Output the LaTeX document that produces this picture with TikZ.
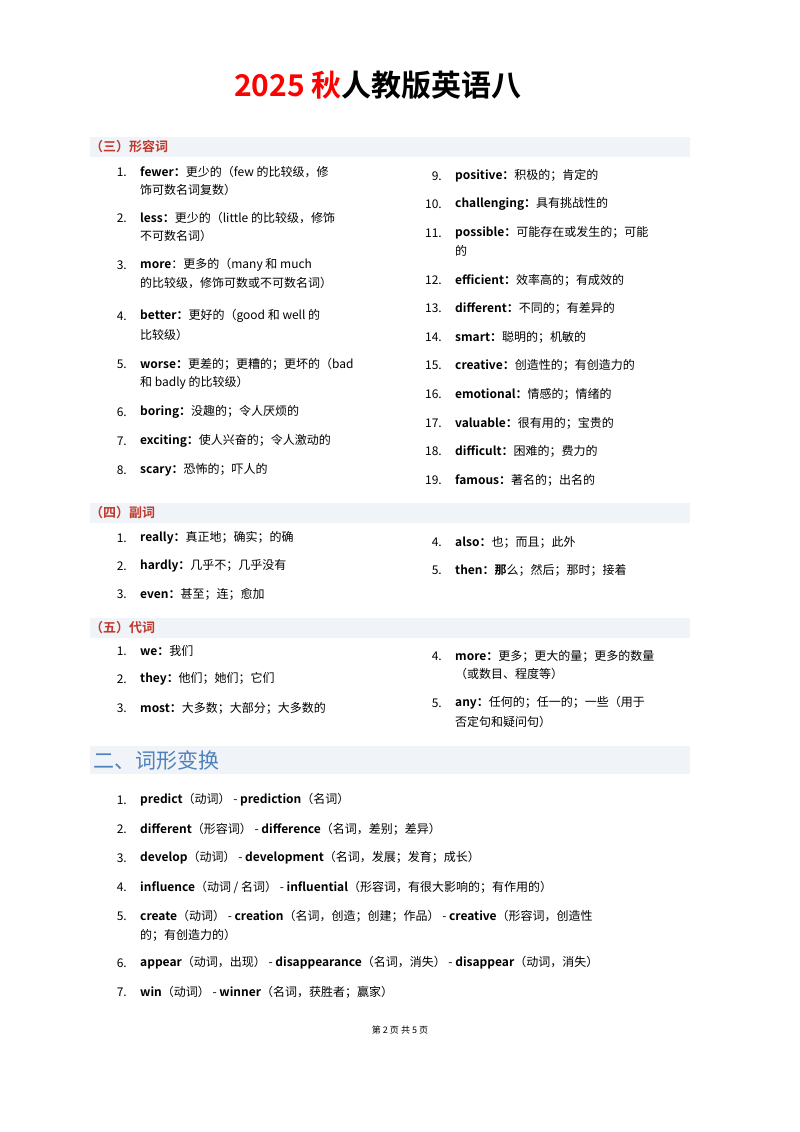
\documentclass[tikz,border=0pt]{standalone}
\usepackage{fontspec}
\setmainfont{Noto Sans CJK SC}[BoldFont={Noto Sans CJK SC Bold}]
\usetikzlibrary{positioning}
\definecolor{barbg}{HTML}{F0F3F8}
\definecolor{secred}{HTML}{C0392B}
\definecolor{secblue}{HTML}{4F81BD}
\tikzset{
  num/.style={anchor=east, inner sep=0pt, font=\fontsize{12}{14}\selectfont},
  txt/.style={anchor=west, inner sep=0pt, font=\fontsize{12}{14}\selectfont},
  sec/.style={anchor=west, inner sep=0pt, text=secred, font=\fontsize{13}{15}\selectfont\bfseries},
  bar/.style={fill=barbg, draw=none}
}
% item: name, x of text, y, number, bold word, rest
\newcommand{\itm}[6]{%
  \node[num] (n#1) at (#2-13,#3) {#4.};
  \node[txt] (t#1) at (#2,#3) {\textbf{#5}#6};}
\begin{document}
\begin{tikzpicture}[x=1pt,y=-1pt]
\useasboundingbox (0,0) rectangle (800,1132);
\fill[white] (0,0) rectangle (800,1132);

% title
\node[inner sep=0pt, font=\fontsize{30}{34}\selectfont\bfseries] (title) at (378,85)
  {\textcolor{red}{2025 秋}人教版英语八};

% (三)
\fill[bar] (90,137) rectangle (690,157);
\node[sec] (s3) at (90,147) {（三）形容词};
\itm{a1}{140}{172}{1}{fewer：}{更少的（few 的比较级，修}
\node[txt] (a1b) at (140,190) {饰可数名词复数）};
\itm{a2}{140}{218}{2}{less：}{更少的（little 的比较级，修饰}
\node[txt] (a2b) at (140,236) {不可数名词）};
\itm{a3}{140}{265}{3}{more}{：更多的（many 和 much}
\node[txt] (a3b) at (140,283) {的比较级，修饰可数或不可数名词）};
\itm{a4}{140}{316}{4}{better：}{更好的（good 和 well 的}
\node[txt] (a4b) at (140,335) {比较级）};
\itm{a5}{140}{364}{5}{worse：}{更差的；更糟的；更坏的（bad}
\node[txt] (a5b) at (140,383) {和 badly 的比较级）};
\itm{a6}{140}{412}{6}{boring：}{没趣的；令人厌烦的}
\itm{a7}{140}{441}{7}{exciting：}{使人兴奋的；令人激动的}
\itm{a8}{140}{470}{8}{scary：}{恐怖的；吓人的}
\itm{a9}{455}{176}{9}{positive：}{积极的；肯定的}
\itm{a10}{455}{204}{10}{challenging：}{具有挑战性的}
\itm{a11}{455}{233}{11}{possible：}{可能存在或发生的；可能}
\node[txt] (a11b) at (455,251) {的};
\itm{a12}{455}{280}{12}{efficient：}{效率高的；有成效的}
\itm{a13}{455}{308}{13}{different：}{不同的；有差异的}
\itm{a14}{455}{337}{14}{smart：}{聪明的；机敏的}
\itm{a15}{455}{365}{15}{creative：}{创造性的；有创造力的}
\itm{a16}{455}{394}{16}{emotional：}{情感的；情绪的}
\itm{a17}{455}{423}{17}{valuable：}{很有用的；宝贵的}
\itm{a18}{455}{451}{18}{difficult：}{困难的；费力的}
\itm{a19}{455}{480}{19}{famous：}{著名的；出名的}

% (四)
\fill[bar] (90,503) rectangle (690,523);
\node[sec] (s4) at (90,513) {（四）副词};
\itm{b1}{140}{538}{1}{really：}{真正地；确实；的确}
\itm{b2}{140}{566}{2}{hardly：}{几乎不；几乎没有}
\itm{b3}{140}{594}{3}{even：}{甚至；连；愈加}
\itm{b4}{455}{542}{4}{also：}{也；而且；此外}
\itm{b5}{455}{570}{5}{then：}{\textbf{那}么；然后；那时；接着}

% (五)
\fill[bar] (90,618) rectangle (690,638);
\node[sec] (s5) at (90,628) {（五）代词};
\itm{c1}{140}{651}{1}{we：}{我们}
\itm{c2}{140}{679}{2}{they：}{他们；她们；它们}
\itm{c3}{140}{708}{3}{most：}{大多数；大部分；大多数的}
\itm{c4}{455}{656}{4}{more：}{更多；更大的量；更多的数量}
\node[txt] (c4b) at (455,674) {（或数目、程度等）};
\itm{c5}{455}{703}{5}{any：}{任何的；任一的；一些（用于}
\node[txt] (c5b) at (455,722) {否定句和疑问句）};

% 二
\fill[bar] (90,746) rectangle (690,774);
\node[anchor=west, inner sep=0pt, text=secblue, font=\fontsize{21}{24}\selectfont] (s2) at (93,760) {二、词形变换};
\itm{d1}{140}{800}{1}{predict}{（动词） - \textbf{prediction}（名词）}
\itm{d2}{140}{829}{2}{different}{（形容词） - \textbf{difference}（名词，差别；差异）}
\itm{d3}{140}{858}{3}{develop}{（动词） - \textbf{development}（名词，发展；发育；成长）}
\itm{d4}{140}{887}{4}{influence}{（动词 / 名词） - \textbf{influential}（形容词，有很大影响的；有作用的）}
\itm{d5}{140}{916}{5}{create}{（动词） - \textbf{creation}（名词，创造；创建；作品） - \textbf{creative}（形容词，创造性}
\node[txt] (d5b) at (140,935) {的；有创造力的）};
\itm{d6}{140}{963}{6}{appear}{（动词，出现） - \textbf{disappearance}（名词，消失） - \textbf{disappear}（动词，消失）}
\itm{d7}{140}{992}{7}{win}{（动词） - \textbf{winner}（名词，获胜者；赢家）}

% footer
\node[inner sep=0pt, font=\fontsize{9}{11}\selectfont] (foot) at (400,1030) {第 2 页 共 5 页};
\end{tikzpicture}
\end{document}
